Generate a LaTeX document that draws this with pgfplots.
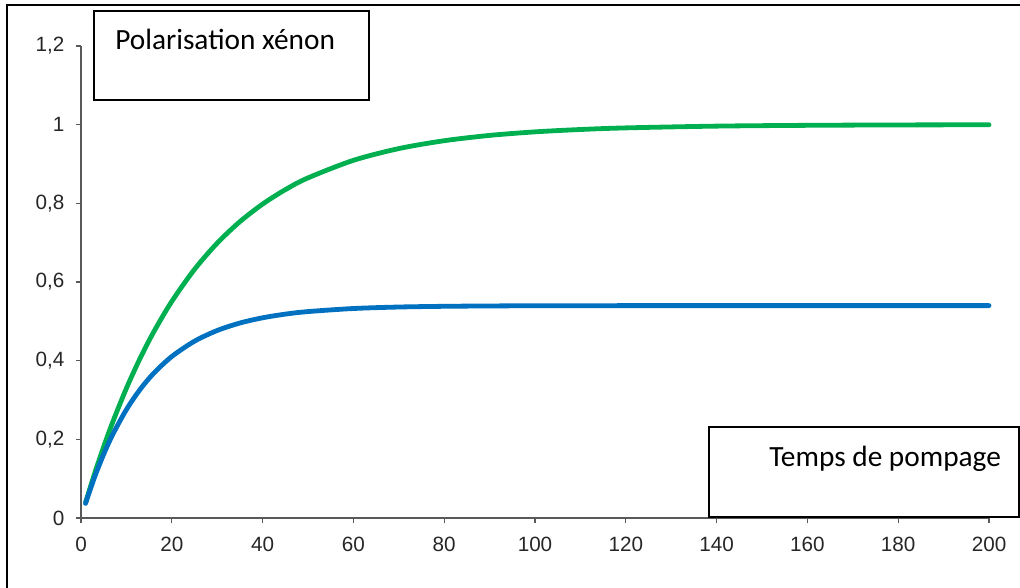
\documentclass[border=0pt]{standalone}
\usepackage{fontspec}
\setmainfont{Liberation Sans}
\newfontfamily\calibri{Carlito}
\usepackage{pgfplots}
\pgfplotsset{compat=1.18}
\definecolor{xgreen}{HTML}{00B050}
\definecolor{xblue}{HTML}{0070C0}
\definecolor{axgray}{HTML}{595959}
\definecolor{txtgray}{HTML}{262626}
\begin{document}
\begin{tikzpicture}
\begin{axis}[
  at={(60.75pt,-388.5pt)}, anchor=south west,
  scale only axis, width=681pt, height=354pt,
  xmin=0, xmax=200, ymin=0, ymax=1.2,
  axis x line*=bottom, axis y line*=left,
  axis line style={axgray, line width=1pt},
  xtick={0,20,...,200},
  ytick={0,0.2,0.4,0.6,0.8,1,1.2},
  tick align=outside, major tick length=4pt,
  tick style={axgray, line width=1pt},
  /pgf/number format/assume math mode=true,
  /pgf/number format/use comma,
  /pgf/number format/fixed,
  /pgf/number format/1000 sep={},
  ticklabel style={font=\fontsize{15.5}{18}\selectfont, text=txtgray},
  xticklabel style={yshift=-7pt},
  yticklabel style={xshift=-5pt},
  clip=false,
]
\addplot[xgreen, line width=3.6pt, smooth, line cap=round] coordinates {
(1,0.0392) (3,0.1131) (5,0.1813) (7,0.2442) (10,0.3297) (13,0.4055) (16,0.4727)
(20,0.5507) (25,0.6321) (30,0.6988) (35,0.7534) (40,0.7981) (45,0.8347) (50,0.8647)
(60,0.9093) (70,0.9392) (80,0.9592) (90,0.9727) (100,0.9817) (110,0.9877) (120,0.9918)
(140,0.9963) (160,0.9983) (180,0.9993) (200,0.9997)
};
\addplot[xblue, line width=3.6pt, smooth, line cap=round] coordinates {
(1,0.0372) (3,0.1042) (5,0.1622) (7,0.2125) (10,0.2756) (13,0.3266) (16,0.3678)
(20,0.4106) (25,0.4495) (30,0.4767) (35,0.4957) (40,0.5090) (45,0.5183) (50,0.5248)
(60,0.5326) (70,0.5364) (80,0.5382) (90,0.5391) (100,0.5396) (120,0.5399)
(140,0.5400) (160,0.5400) (180,0.5400) (200,0.5400)
};
\end{axis}
% outer frame (left and top)
\draw[black, line width=1.5pt] (4.9pt,-445pt) -- (4.9pt,-4pt) -- (770pt,-4pt);
% boxes
\draw[black, line width=1.6pt, fill=white] (70.5pt,-8.25pt) rectangle (276.75pt,-75pt);
\node[anchor=base west, inner sep=0pt, font=\calibri\fontsize{22}{26}\selectfont] at (86.25pt,-37.5pt) {Polarisation xénon};
\draw[black, line width=1.6pt, fill=white] (531.75pt,-320.25pt) rectangle (764.25pt,-387.75pt);
\node[anchor=base west, inner sep=0pt, font=\calibri\fontsize{22}{26}\selectfont] at (576.75pt,-349.5pt) {Temps de pompage};
\pgfresetboundingbox
\useasboundingbox (0pt,0pt) rectangle (765pt,-441pt);
\end{tikzpicture}
\end{document}
